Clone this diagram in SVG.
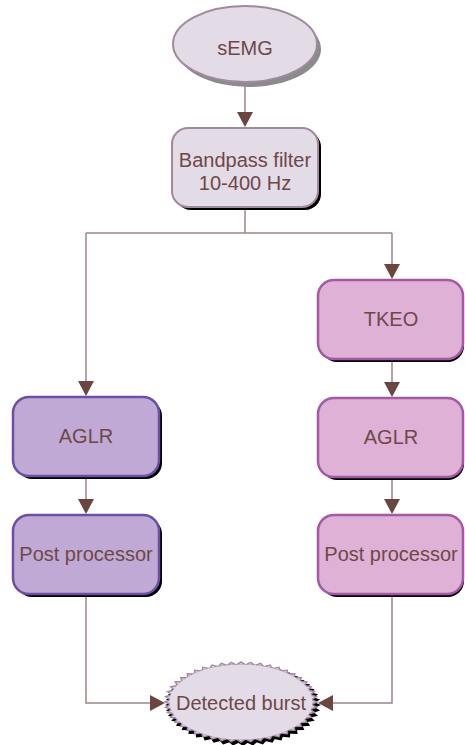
<svg xmlns="http://www.w3.org/2000/svg" xmlns:xlink="http://www.w3.org/1999/xlink" width="465" height="745" viewBox="0 0 465 745">
  <style>
    .label { font-family: "Liberation Sans", Arial, sans-serif; font-size: 20px; fill: #6e4848; text-anchor: middle; }
    .shadow { fill: #000; }
    .light { fill: #e3dbe6; stroke: #a08a9e; stroke-width: 2; }
    .violet { fill: #c1a9d5; stroke: #6b4fa3; stroke-width: 2.5; }
    .pink { fill: #dfb1d7; stroke: #a45aa2; stroke-width: 2.5; }
    .wire { fill: none; stroke: #a08586; stroke-width: 1.5; }
    .head { fill: #6b4540; }
  </style>
  <defs>
    <!-- one tooth of the jagged outline, in unit-circle space -->
    <polygon id="tooth" points="0.928,-0.0608 1,0 0.928,0.0608" vector-effect="non-scaling-stroke"/>
    <g id="teeth">
      <use href="#tooth" transform="rotate(0)"/><use href="#tooth" transform="rotate(7.5)"/>
      <use href="#tooth" transform="rotate(15)"/><use href="#tooth" transform="rotate(22.5)"/>
      <use href="#tooth" transform="rotate(30)"/><use href="#tooth" transform="rotate(37.5)"/>
      <use href="#tooth" transform="rotate(45)"/><use href="#tooth" transform="rotate(52.5)"/>
      <use href="#tooth" transform="rotate(60)"/><use href="#tooth" transform="rotate(67.5)"/>
      <use href="#tooth" transform="rotate(75)"/><use href="#tooth" transform="rotate(82.5)"/>
      <use href="#tooth" transform="rotate(90)"/><use href="#tooth" transform="rotate(97.5)"/>
      <use href="#tooth" transform="rotate(105)"/><use href="#tooth" transform="rotate(112.5)"/>
      <use href="#tooth" transform="rotate(120)"/><use href="#tooth" transform="rotate(127.5)"/>
      <use href="#tooth" transform="rotate(135)"/><use href="#tooth" transform="rotate(142.5)"/>
      <use href="#tooth" transform="rotate(150)"/><use href="#tooth" transform="rotate(157.5)"/>
      <use href="#tooth" transform="rotate(165)"/><use href="#tooth" transform="rotate(172.5)"/>
      <use href="#tooth" transform="rotate(180)"/><use href="#tooth" transform="rotate(187.5)"/>
      <use href="#tooth" transform="rotate(195)"/><use href="#tooth" transform="rotate(202.5)"/>
      <use href="#tooth" transform="rotate(210)"/><use href="#tooth" transform="rotate(217.5)"/>
      <use href="#tooth" transform="rotate(225)"/><use href="#tooth" transform="rotate(232.5)"/>
      <use href="#tooth" transform="rotate(240)"/><use href="#tooth" transform="rotate(247.5)"/>
      <use href="#tooth" transform="rotate(255)"/><use href="#tooth" transform="rotate(262.5)"/>
      <use href="#tooth" transform="rotate(270)"/><use href="#tooth" transform="rotate(277.5)"/>
      <use href="#tooth" transform="rotate(285)"/><use href="#tooth" transform="rotate(292.5)"/>
      <use href="#tooth" transform="rotate(300)"/><use href="#tooth" transform="rotate(307.5)"/>
      <use href="#tooth" transform="rotate(315)"/><use href="#tooth" transform="rotate(322.5)"/>
      <use href="#tooth" transform="rotate(330)"/><use href="#tooth" transform="rotate(337.5)"/>
      <use href="#tooth" transform="rotate(345)"/><use href="#tooth" transform="rotate(352.5)"/>
    </g>
  </defs>

  <!-- connectors -->
  <g id="connectors">
    <path class="wire" d="M245 82 V114"/>
    <polygon class="head" points="237,112 253,112 245,127"/>
    <path class="wire" d="M245 207 V233 M86 233 H392 M86 233 V383 M392 233 V266"/>
    <polygon class="head" points="78,381 94,381 86,396"/>
    <polygon class="head" points="384,264 400,264 392,279"/>
    <path class="wire" d="M86 477 V501 M392 359 V384 M392 477 V501"/>
    <polygon class="head" points="78,499 94,499 86,514"/>
    <polygon class="head" points="384,382 400,382 392,397"/>
    <polygon class="head" points="384,499 400,499 392,514"/>
    <path class="wire" d="M86 595 V703 H152 M392 595 V703 H331"/>
    <polygon class="head" points="150,695 150,711 165,703"/>
    <polygon class="head" points="333,695 333,711 318,703"/>
  </g>

  <g id="semg">
    <ellipse cx="249" cy="49" rx="72" ry="38" fill="#8c8a8c"/>
    <ellipse class="light" cx="245" cy="44" rx="72" ry="38"/>
    <text class="label" x="245" y="55">sEMG</text>
  </g>

  <g id="bandpass">
    <rect class="shadow" x="175" y="131" width="146" height="79" rx="16"/>
    <rect class="light" x="172" y="128" width="146" height="79" rx="16"/>
    <text class="label" x="245" y="167">Bandpass filter</text>
    <text class="label" x="245" y="190">10-400 Hz</text>
  </g>

  <g id="aglr-left">
    <rect class="shadow" x="16" y="400" width="146" height="79" rx="16"/>
    <rect class="violet" x="13" y="397" width="146" height="79" rx="16"/>
    <text class="label" x="86" y="443">AGLR</text>
  </g>

  <g id="post-left">
    <rect class="shadow" x="16" y="518" width="146" height="79" rx="16"/>
    <rect class="violet" x="13" y="515" width="146" height="79" rx="16"/>
    <text class="label" x="86" y="561">Post processor</text>
  </g>

  <g id="tkeo">
    <rect class="shadow" x="321" y="283" width="143" height="79" rx="16"/>
    <rect class="pink" x="318" y="280" width="145" height="79" rx="16"/>
    <text class="label" x="391" y="326">TKEO</text>
  </g>

  <g id="aglr-right">
    <rect class="shadow" x="321" y="401" width="143" height="79" rx="16"/>
    <rect class="pink" x="318" y="398" width="145" height="79" rx="16"/>
    <text class="label" x="391" y="444">AGLR</text>
  </g>

  <g id="post-right">
    <rect class="shadow" x="321" y="518" width="143" height="79" rx="16"/>
    <rect class="pink" x="318" y="515" width="145" height="79" rx="16"/>
    <text class="label" x="391" y="561">Post processor</text>
  </g>

  <g id="detected-burst">
    <g transform="translate(243,705) scale(76,40)" fill="#000" stroke="#000" stroke-width="1.5">
      <use href="#teeth"/>
      <ellipse cx="0" cy="0" rx="0.94" ry="0.94" stroke="none"/>
    </g>
    <g transform="translate(241,702) scale(76,40)" fill="#e3dbe6" stroke="#a48aa3" stroke-width="1.5">
      <use href="#teeth"/>
      <ellipse cx="0" cy="0" rx="0.94" ry="0.94" stroke="none"/>
    </g>
    <text class="label" x="241" y="710">Detected burst</text>
  </g>
</svg>
